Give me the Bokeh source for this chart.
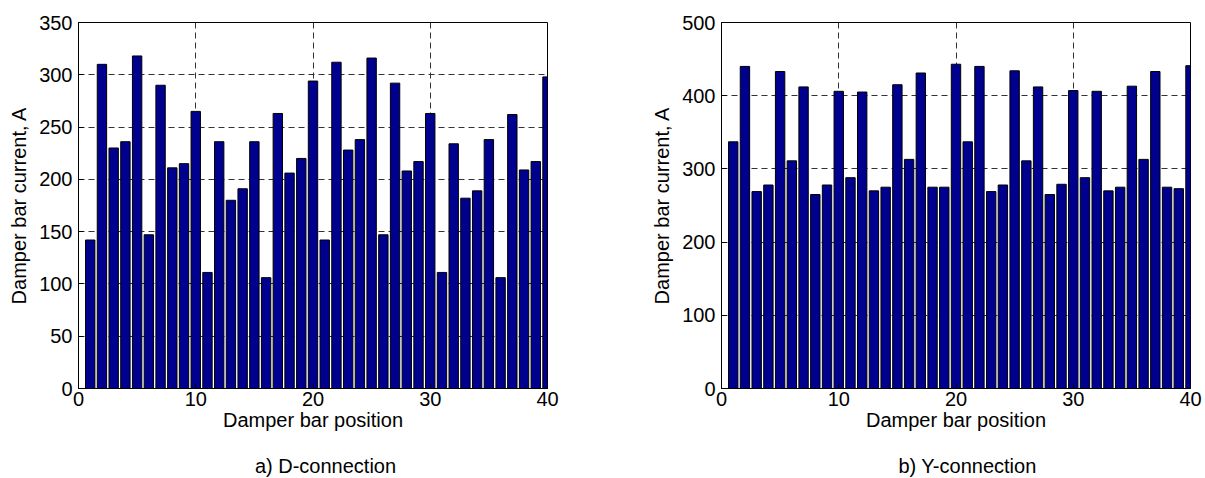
from bokeh.plotting import figure
from bokeh.layouts import row, column
from bokeh.models import FixedTicker, Range1d, ColumnDataSource
from bokeh.core.properties import value
from bokeh.embed import file_html
from bokeh.resources import INLINE

positions = list(range(1, 41))
d_current = [142, 310, 230, 236, 318, 147, 290, 211, 215, 265,
             111, 236, 180, 191, 236, 106, 263, 206, 220, 294,
             142, 312, 228, 238, 316, 147, 292, 208, 217, 263,
             111, 234, 182, 189, 238, 106, 262, 209, 217, 298]
y_current = [337, 440, 269, 278, 433, 311, 412, 265, 278, 406,
             288, 405, 270, 275, 415, 313, 431, 275, 275, 443,
             337, 440, 269, 278, 434, 311, 412, 265, 279, 407,
             288, 406, 270, 275, 413, 313, 433, 275, 273, 441]
x_ticks = [0, 10, 20, 30, 40]
d_ticks = [0, 50, 100, 150, 200, 250, 300, 350]
y_ticks = [0, 100, 200, 300, 400, 500]
x_label = "Damper bar position"
y_label = "Damper bar current, A"
captions = ["a) D-connection", "b) Y-connection"]

FONT = "Liberation Sans"
PLOT_H = 440
CAP_H = 478 - PLOT_H


def make(vals, yticks, width, left, right):
    p = figure(width=width, height=PLOT_H,
               x_range=Range1d(0, 40), y_range=Range1d(yticks[0], yticks[-1]),
               output_backend="svg", toolbar_location=None,
               min_border_left=left, min_border_right=right,
               min_border_top=22, min_border_bottom=PLOT_H - 22 - 366)
    src = ColumnDataSource(dict(pos=positions, val=vals))
    p.vbar(x="pos", top="val", width=0.8, bottom=0, source=src,
           fill_color="#00008F", line_color="black", line_width=1)
    p.xaxis.ticker = FixedTicker(ticks=x_ticks)
    p.yaxis.ticker = FixedTicker(ticks=yticks)
    p.xgrid.ticker = FixedTicker(ticks=x_ticks)
    p.ygrid.ticker = FixedTicker(ticks=yticks)
    for g in (p.xgrid, p.ygrid):
        g.grid_line_color = "#333333"
        g.grid_line_dash = "6 4"
        g.grid_line_width = 1
        g.grid_line_alpha = 1.0
    p.xaxis.axis_label = x_label
    p.yaxis.axis_label = y_label
    for ax in (p.xaxis, p.yaxis):
        ax.axis_label_text_font = FONT
        ax.axis_label_text_font_size = "20px"
        ax.axis_label_text_font_style = "normal"
        ax.axis_label_text_color = "black"
        ax.major_label_text_font = FONT
        ax.major_label_text_font_size = "20px"
        ax.major_label_text_color = "black"
        ax.major_tick_in = 5
        ax.major_tick_out = 0
        ax.minor_tick_line_color = None
        ax.axis_line_color = "black"
        ax.major_tick_line_color = "black"
    p.xaxis.major_label_standoff = 3
    p.xaxis.axis_label_standoff = 0
    p.yaxis.major_label_standoff = 6
    p.yaxis.axis_label_standoff = 6
    p.outline_line_color = "black"
    p.outline_line_width = 1
    p.outline_line_alpha = 1.0
    p.background_fill_color = "white"
    p.border_fill_color = "white"
    return p


def make_caption(text, width, cx):
    c = figure(width=width, height=CAP_H,
               x_range=Range1d(0, width), y_range=Range1d(0, CAP_H),
               output_backend="svg", toolbar_location=None,
               x_axis_location=None, y_axis_location=None,
               min_border=0, min_border_left=0, min_border_right=0,
               min_border_top=0, min_border_bottom=0)
    c.grid.visible = False
    c.outline_line_color = None
    c.background_fill_color = "white"
    c.border_fill_color = "white"
    c.text(x=[cx], y=[13], text=[text], text_font=value(FONT),
           text_font_size="20px", text_align="center",
           text_baseline="alphabetic", text_color="black")
    return c


p1 = make(d_current, d_ticks, 602, 78, 55)
p2 = make(y_current, y_ticks, 603, 119, 15)
c1 = make_caption(captions[0], 602, 247 + 78)
c2 = make_caption(captions[1], 603, 967 - 602)
layout = column(row(p1, p2), row(c1, c2))

open("out.html", "w").write(file_html(layout, INLINE))
